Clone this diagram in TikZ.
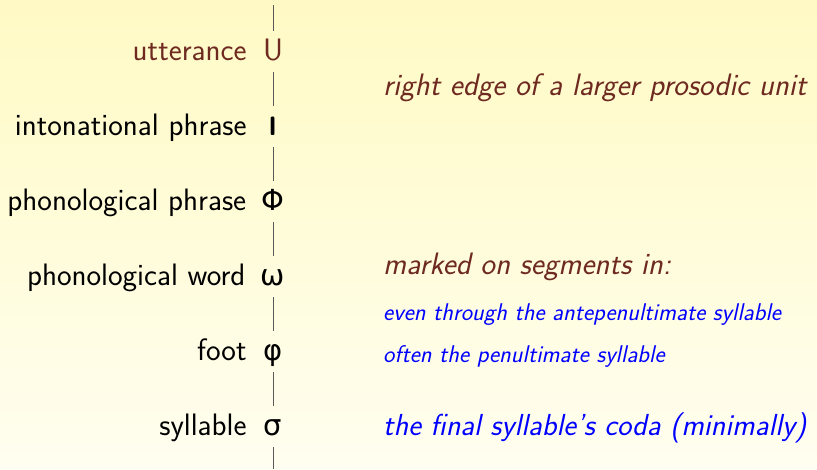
\documentclass[tikz,border=0pt]{standalone}
\usepackage{fontspec}
\usepackage{tikz}
\usetikzlibrary{positioning}
\usepackage{xcolor}
\newfontfamily\greekfont{DejaVu Sans}
\definecolor{unitbrown}{RGB}{110,42,32}
\definecolor{bgtop}{RGB}{255,250,196}
\definecolor{bgbottom}{RGB}{255,254,240}
\newcommand{\bigsf}{\sffamily\fontsize{31pt}{36pt}\selectfont}
\newcommand{\smallsf}{\sffamily\itshape\fontsize{24.2pt}{29pt}\selectfont}
\tikzset{
  x=1pt, y=1pt,
  level/.style={font=\bigsf, anchor=base, inner sep=4pt, text height=25pt, text depth=8pt, minimum width=30pt},
  levelname/.style={font=\bigsf, inner sep=0pt},
  note/.style={font=\bigsf\itshape, inner sep=0pt, anchor=base west},
  smallnote/.style={font=\smallsf, inner sep=0pt, anchor=base west, text=blue},
  tier/.style={draw=black!65, line width=0.9pt}
}

\begin{document}
\begin{tikzpicture}
      \shade[top color=bgtop, bottom color=bgbottom] (0,0) rectangle (817,-469);
      \useasboundingbox (0,0) rectangle (817,-469);

      % the prosodic hierarchy
      \coordinate (top) at (273,-5);
      \node[level, text=unitbrown] (utt)  at (273,-60)  {U};
      \node[level] (iphr) at (273,-135) {\scalebox{0.9}[1.3]{\bfseries\i}};
      \node[level] (pphr) at (273,-210) {\greekfont\fontsize{29pt}{34pt}\selectfont Φ};
      \node[level] (pwd)  at (273,-285) {\greekfont\fontsize{29pt}{34pt}\selectfont ω};
      \node[level] (ft)   at (273,-360) {\greekfont\fontsize{29pt}{34pt}\selectfont φ};
      \node[level] (syl)  at (273,-435) {\greekfont\fontsize{29pt}{34pt}\selectfont σ};
      \coordinate (bottom) at (273,-469);

      \node[levelname, text=unitbrown, base left=11pt of utt] {utterance};
      \node[levelname, base left=11pt of iphr] {intonational phrase};
      \node[levelname, base left=11pt of pphr] {phonological phrase};
      \node[levelname, base left=11pt of pwd]  {phonological word};
      \node[levelname, base left=11pt of ft]   {foot};
      \node[levelname, base left=11pt of syl]  {syllable};

      \draw[tier] (top) -- (utt) -- (iphr) -- (pphr) -- (pwd) -- (ft) -- (syl) -- (bottom);

      % where the boundary is marked
      \node[note, text=unitbrown] (edge)   at (383,-95)  {right edge of a larger prosodic unit};
      \node[note, text=unitbrown] (marked) at (383,-274) {marked on segments in:};
      \node[smallnote] (ante) at (383,-320) {even through the antepenultimate syllable};
      \node[smallnote] (pen)  at (383,-362) {often the penultimate syllable};
      \node[note, text=blue, font=\sffamily\itshape\fontsize{30.4pt}{35pt}\selectfont] (coda) at (383,-435) {the final syllable's coda (minimally)};
    \end{tikzpicture}
\end{document}
